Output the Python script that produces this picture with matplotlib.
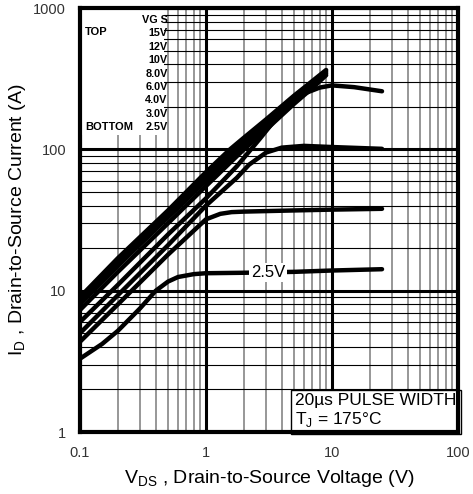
import matplotlib
matplotlib.use("Agg")
import matplotlib.pyplot as plt
from matplotlib.ticker import LogLocator, NullFormatter

FONT = ["Liberation Sans", "DejaVu Sans"]

# curves: V_DS (V) -> I_D (A)
vds_15 = [0.1, 0.2, 0.5, 1.0, 1.55, 2.0, 3.0, 5.0, 7.0, 9.0]
id_15 = [9.0, 17.0, 37, 69, 100, 121, 163, 240, 305, 365]
vds_12 = [0.1, 0.2, 0.5, 1.0, 2.0, 3.0, 5.0, 7.0, 9.0]
id_12 = [8.5, 16.0, 35, 65, 115, 155, 230, 293, 355]
vds_10 = [0.1, 0.2, 0.5, 1.0, 2.0, 3.0, 5.0, 7.0, 9.0]
id_10 = [8.0, 15.0, 33, 60, 108, 147, 220, 282, 345]
vds_8 = [0.1, 0.2, 0.5, 1.0, 2.0, 3.0, 5.0, 7.0, 9.0]
id_8 = [7.3, 13.6, 30, 55, 100, 138, 210, 272, 335]
vds_6 = [0.1, 0.2, 0.5, 1.0, 1.76, 2.7, 3.5, 4.6, 6.0, 8.0, 10.0, 15.0, 25.0]
id_6 = [6.0, 11.0, 25, 45, 76, 120, 160, 212, 248, 274, 284, 276, 258]
vds_4 = [0.1, 0.2, 0.5, 1.0, 1.76, 2.2, 3.0, 4.0, 6.0, 10.0, 25.0]
id_4 = [5.0, 9.3, 21, 40, 63, 78, 95, 103, 106, 104, 101]
vds_3 = [0.1, 0.2, 0.5, 1.0, 1.3, 1.6, 2.0, 5.0, 10.0, 25.0]
id_3 = [4.35, 8.0, 18, 32, 35, 36, 36.3, 37, 37.5, 38]
vds_25 = [0.1, 0.15, 0.2, 0.3, 0.4, 0.5, 0.6, 0.8, 1.0, 2.0, 5.0, 10.0, 25.0]
id_25 = [3.3, 4.2, 5.2, 7.5, 10.0, 11.6, 12.5, 13.1, 13.3, 13.4, 13.6, 13.9, 14.2]

curves = [(vds_15, id_15), (vds_12, id_12), (vds_10, id_10), (vds_8, id_8),
          (vds_6, id_6), (vds_4, id_4), (vds_3, id_3), (vds_25, id_25)]

vgs_labels = ["VG S", "15V", "12V", "10V", "8.0V", "6.0V", "4.0V", "3.0V", "2.5V"]
x_ticks = [0.1, 1, 10, 100]
x_tick_labels = ["0.1", "1", "10", "100"]
y_ticks = [1, 10, 100, 1000]
y_tick_labels = ["1", "10", "100", "1000"]

fig = plt.figure(figsize=(4.73, 4.94), dpi=100)
ax = fig.add_axes([0.169, 0.1255, 0.799, 0.858])
ax.set_xscale("log")
ax.set_yscale("log")
ax.set_xlim(0.1, 100)
ax.set_ylim(1, 1000)

# grid: heavy decades, thin minors
ax.xaxis.set_minor_locator(LogLocator(base=10, subs=range(2, 10)))
ax.yaxis.set_minor_locator(LogLocator(base=10, subs=range(2, 10)))
ax.xaxis.set_minor_formatter(NullFormatter())
ax.yaxis.set_minor_formatter(NullFormatter())
ax.grid(which="major", color="black", linewidth=2.2)
ax.xaxis.grid(which="minor", color="#7a7a7a", linewidth=1.1)
ax.yaxis.grid(which="minor", color="black", linewidth=0.8)
ax.set_axisbelow(True)

for v, i in curves:
    ax.plot(v, i, color="black", linewidth=3.2, solid_capstyle="round",
            solid_joinstyle="round", zorder=3)

for s in ax.spines.values():
    s.set_linewidth(3)
    s.set_zorder(6)

ax.set_xticks(x_ticks)
ax.set_xticklabels(x_tick_labels)
ax.set_yticks(y_ticks)
ax.set_yticklabels(y_tick_labels)
ax.tick_params(which="both", length=0, pad=10, labelsize=10.5, labelcolor="#333333")
for lab in ax.get_xticklabels() + ax.get_yticklabels():
    lab.set_family(FONT)

ax.set_xlabel("V$_{\\mathregular{DS}}$ , Drain-to-Source Voltage (V)", family=FONT,
              fontsize=14, labelpad=6)
ax.set_ylabel("I$_{\\mathregular{D}}$ , Drain-to-Source Current (A)", family=FONT,
              fontsize=14, labelpad=4)

# legend block at top-left on white background
ax.add_patch(plt.Rectangle((0, 0.70), 0.222, 0.30, transform=ax.transAxes,
                           facecolor="white", edgecolor="none", zorder=2))
ax.text(0.014, 0.943, "TOP", transform=ax.transAxes, family=FONT, weight="bold",
        fontsize=8, va="center", ha="left", zorder=5)
ax.text(0.014, 0.719, "BOTTOM", transform=ax.transAxes, family=FONT, weight="bold",
        fontsize=8, va="center", ha="left", zorder=5)
for k, lab in enumerate(vgs_labels):
    ax.text(0.232, 0.972 - k * 0.0316, lab, transform=ax.transAxes,
            family=FONT, weight="bold", fontsize=7.8, va="center", ha="right", zorder=5)

# 2.5V tag on its curve
ax.text(3.1, 13.4, "2.5V", family=FONT, fontsize=12, ha="center", va="center",
        zorder=4, bbox=dict(facecolor="white", edgecolor="none", pad=1.5))

# pulse width box
ax.text(0.57, 0.006, "20\u00b5s PULSE WIDTH\nT$_{\\mathregular{J}}$ = 175\u00b0C",
        transform=ax.transAxes, family=FONT, fontsize=12.5, ha="left", va="bottom",
        linespacing=1.2, zorder=5,
        bbox=dict(facecolor="white", edgecolor="black", linewidth=1, pad=3))

fig.savefig("out.png", dpi=100)
